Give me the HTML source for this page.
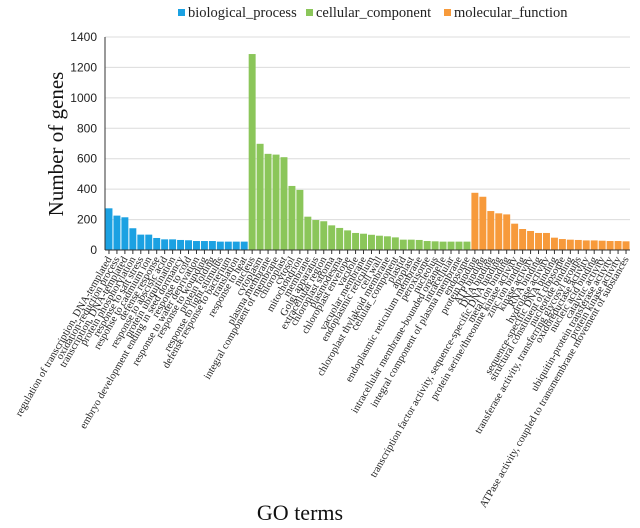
<!DOCTYPE html>
<html><head><meta charset="utf-8"><style>
body{margin:0;background:#fff}
svg{display:block;font-family:"Liberation Serif",serif}
</style></head><body>
<svg id="c" width="640" height="528" viewBox="0 0 640 528"></svg>
<script>
const bpLabels=["regulation of transcription, DNA-templated","oxidation-reduction process","transcription, DNA-templated","protein phosphorylation","response to salt stress","response to cadmium ion","defense response","response to abscisic acid","protein ubiquitination","embryo development ending in seed dormancy","response to cold","response to water deprivation","response to wounding","protein folding","response to light stimulus","defense response to bacterium","translation","response to heat"];
const bpValues=[274,226,215,143,101,101,79,70,70,66,64,59,59,59,55,55,55,55];
const ccLabels=["nucleus","cytoplasm","plasma membrane","integral component of membrane","chloroplast","cytosol","mitochondrion","membrane","Golgi apparatus","extracellular region","chloroplast stroma","plasmodesma","chloroplast envelope","vacuole","vacuolar membrane","endoplasmic reticulum","cell wall","chloroplast thylakoid membrane","cellular_component","plastid","apoplast","endoplasmic reticulum membrane","peroxisome","nucleolus","intracellular membrane-bounded organelle","intracellular","integral component of plasma membrane","endosome"];
const ccValues=[1288,698,632,627,610,421,395,219,197,189,162,145,129,112,107,100,94,90,83,68,68,66,59,57,55,55,55,55];
const mfLabels=["protein binding","ATP binding","DNA binding","transcription factor activity, sequence-specific DNA binding","metal ion binding","protein serine/threonine kinase activity","zinc ion binding","kinase activity","RNA binding","hydrolase activity","sequence-specific DNA binding","structural constituent of ribosome","nucleotide binding","transferase activity, transferring glycosyl groups","oxidoreductase activity","nucleic acid binding","catalytic activity","ubiquitin-protein transferase activity","protein kinase activity","ATPase activity, coupled to transmembrane movement of substances"];
const mfValues=[376,350,256,241,234,173,138,125,112,112,81,72,68,66,63,63,61,59,59,57];
const yTicks=[0,200,400,600,800,1000,1200,1400];
const groupNames=["biological_process","cellular_component","molecular_function"];
const colors=["#1ba1e2","#8bc65a","#f79a3b"];

const NS="http://www.w3.org/2000/svg";
const svg=document.getElementById('c');
function mk(t,a,p){const e=document.createElementNS(NS,t);for(const k in a)e.setAttribute(k,a[k]);(p||svg).appendChild(e);return e;}
const x0=105,x1=630,yb=250,yt=37,yMax=1400;
const y=v=>yb-(v/yMax)*(yb-yt);
const groups=[[bpLabels,bpValues],[ccLabels,ccValues],[mfLabels,mfValues]];
const n=bpValues.length+ccValues.length+mfValues.length;
const bw=(x1-x0)/n;
const xb=i=>x0+i*bw;

yTicks.forEach(t=>{
  if(t>0){const g=mk('line',{x1:x0,x2:x1,y1:y(t),y2:y(t),stroke:'#dcdcdc','stroke-width':1});
  }
  const l=mk('text',{x:x0-8,y:y(t)+4,'text-anchor':'end','font-size':12,'font-family':'Liberation Sans, sans-serif',fill:'#222'});
  l.textContent=t;
  
});
let idx=0;
groups.forEach((g,gi)=>{
  g[1].forEach((v,j)=>{
    const r=mk('rect',{x:xb(idx)+0.5,y:y(v),width:bw-1,height:yb-y(v),fill:colors[gi]});
    
    
    const cx=xb(idx)+bw/2;
    const tk=mk('line',{x1:cx,x2:cx,y1:yb,y2:yb+4,stroke:'#333','stroke-width':1});
    
    const t=mk('text',{x:0,y:0,'text-anchor':'end','font-size':10.5,fill:'#222',transform:`translate(${cx+3},${yb+9}) rotate(-60)`});
    t.textContent=g[0][j];
    
    idx++;
  });
});
const ax=mk('line',{x1:x0,x2:x1,y1:yb,y2:yb,stroke:'#333','stroke-width':1});

const ay=mk('line',{x1:x0,x2:x0,y1:yt,y2:yb,stroke:'#333','stroke-width':1});

const lx=[178,306,444];
groupNames.forEach((nm,i)=>{
  const s=mk('rect',{x:lx[i],y:9,width:7,height:7,fill:colors[i]});
  
  const t=mk('text',{x:lx[i]+10,y:17,'font-size':14.5,fill:'#222'});t.textContent=nm;
  
});
const yl=mk('text',{x:0,y:0,'text-anchor':'middle','font-size':21,fill:'#111',transform:'translate(63,144) rotate(-90)'});
yl.textContent='Number of genes';

const xl=mk('text',{x:300,y:520,'text-anchor':'middle','font-size':22,fill:'#111'});
xl.textContent='GO terms';

</script>
</body></html>
